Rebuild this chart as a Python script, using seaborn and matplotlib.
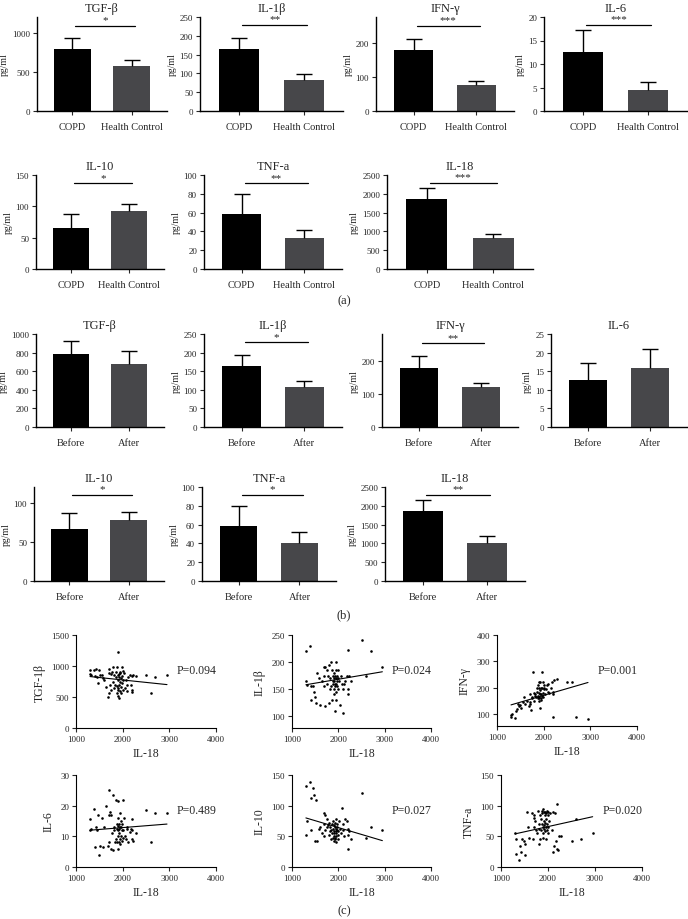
import numpy as np
import pandas as pd
import matplotlib
matplotlib.use("Agg")
import matplotlib.pyplot as plt
import seaborn as sns

# =============================================================================
#  Data
# =============================================================================

cyto_names = ["TGF-β", "IL-1β", "IFN-γ", "IL-6", "IL-10", "TNF-a", "IL-18"]

# (a) COPD vs health control
a_groups = ["COPD", "Health Control"]
a_means = [[790, 580], [165, 82], [177, 75], [12.6, 4.4], [66, 92], [59, 33], [1870, 820]]
a_errs = [[140, 65], [29, 16], [35, 14], [4.7, 1.7], [21, 11], [21, 9], [280, 120]]
a_stars = ["*", "**", "***", "***", "*", "**", "***"]
a_sig_y = [1090, 229, 250, 18.3, 137, 91, 2294]
a_ymax = [1200, 250, 275, 20, 150, 100, 2500]
a_yticks = [[0, 500, 1000], [0, 50, 100, 150, 200, 250], [0, 100, 200],
            [0, 5, 10, 15, 20], [0, 50, 100, 150], [0, 20, 40, 60, 80, 100],
            [0, 500, 1000, 1500, 2000, 2500]]

# (b) before vs after treatment
b_groups = ["Before", "After"]
b_means = [[785, 680], [165, 107], [178, 120], [12.6, 15.8], [67, 78], [58, 40], [1870, 1000]]
b_errs = [[145, 140], [29, 17], [35, 11], [4.7, 5.2], [20, 10], [22, 12], [280, 200]]
b_stars = ["", "*", "**", "", "*", "*", "**"]
b_sig_y = [None, 228, 252, None, 110, 92, 2294]
b_ymax = [1000, 250, 280, 25, 120, 100, 2500]
b_yticks = [[0, 200, 400, 600, 800, 1000], [0, 50, 100, 150, 200, 250], [0, 100, 200],
            [0, 5, 10, 15, 20, 25], [0, 50, 100], [0, 20, 40, 60, 80, 100],
            [0, 500, 1000, 1500, 2000, 2500]]

# (c) correlation with IL-18
il18 = [1300, 1310, 1320, 1380, 1400, 1420, 1450, 1480, 1500, 1520,
        1550, 1580, 1600, 1650, 1680, 1700, 1700, 1710, 1720, 1750,
        1760, 1780, 1800, 1800, 1810, 1820, 1840, 1850, 1860, 1870,
        1880, 1880, 1890, 1900, 1900, 1900, 1910, 1910, 1920, 1920,
        1930, 1930, 1940, 1940, 1950, 1950, 1960, 1960, 1970, 1980,
        1980, 1990, 2000, 2000, 2010, 2030, 2050, 2080, 2100, 2100,
        2120, 2150, 2180, 2200, 2200, 2210, 2230, 2280, 2500, 2600,
        2700, 2950]
tgf = [930, 870, 850, 940, 840, 950, 820, 730, 940, 850,
       860, 800, 780, 660, 500, 880, 560, 950, 700, 870,
       620, 900, 980, 750, 860, 640, 700, 820, 900, 560,
       980, 680, 650, 860, 780, 520, 1220, 620, 870, 480,
       700, 830, 900, 600, 750, 880, 660, 560, 800, 990,
       720, 840, 780, 610, 920, 880, 640, 780, 700, 600,
       830, 850, 690, 840, 580, 620, 850, 840, 850, 570,
       830, 860]
il1b = [220, 165, 158, 230, 130, 155, 155, 145, 135, 125,
        180, 170, 120, 165, 190, 175, 155, 190, 118, 185,
        160, 175, 195, 125, 170, 150, 155, 200, 130, 185,
        165, 160, 175, 170, 150, 140, 165, 180, 110, 155,
        175, 160, 185, 145, 170, 160, 200, 130, 165, 155,
        175, 185, 150, 170, 165, 120, 175, 160, 105, 150,
        160, 165, 175, 222, 150, 140, 175, 165, 240, 175,
        220, 190]
ifn = [95, 90, 100, 85, 110, 120, 140, 130, 135, 125,
       145, 165, 140, 150, 130, 175, 145, 140, 115, 165,
       160, 260, 180, 150, 175, 170, 165, 200, 185, 160,
       210, 170, 150, 220, 180, 160, 200, 165, 125, 175,
       220, 190, 160, 200, 155, 175, 260, 170, 200, 220,
       165, 180, 210, 195, 200, 175, 195, 210, 215, 185,
       180, 200, 220, 90, 175, 185, 230, 235, 220, 220,
       90, 80]
il6 = [15.5, 12, 12.5, 19, 6.5, 13, 12, 17, 4, 7,
       16, 6.5, 13, 20, 7, 25, 17, 8, 18, 6,
       17, 11, 23.5, 5.5, 12, 13, 8, 22, 9, 12.5,
       14, 8, 21.5, 6, 13.5, 12, 16, 10, 11, 8,
       14, 12.5, 17.5, 9, 13, 7.5, 15, 13, 10, 12,
       8.5, 14, 22, 9.5, 12, 16, 10, 9, 13, 12.5,
       8, 11.5, 12.5, 9, 15.5, 12, 8.5, 11, 18.5, 8,
       17.5, 17.5]
il10 = [132, 52, 75, 138, 112, 60, 128, 118, 42, 110,
        42, 62, 65, 55, 88, 70, 50, 85, 60, 78,
        65, 68, 52, 72, 58, 65, 45, 60, 70, 55,
        48, 62, 75, 58, 50, 42, 68, 55, 45, 65,
        72, 48, 58, 62, 40, 55, 78, 50, 60, 65,
        70, 52, 58, 45, 75, 62, 55, 97, 60, 70,
        50, 78, 75, 30, 62, 52, 58, 45, 120, 47,
        65, 60]
tnf = [55, 22, 45, 12, 35, 25, 45, 42, 19, 38,
       90, 65, 48, 88, 45, 80, 65, 85, 75, 60,
       55, 92, 70, 38, 62, 85, 45, 78, 60, 92,
       70, 88, 65, 95, 55, 48, 75, 90, 62, 68,
       85, 58, 72, 90, 65, 45, 78, 88, 60, 92,
       70, 65, 55, 85, 90, 75, 88, 60, 25, 90,
       35, 88, 42, 103, 30, 28, 50, 50, 42, 78,
       45, 56]

c_names = ["TGF-1β", "IL-1β", "IFN-γ", "IL-6", "IL-10", "TNF-a"]
c_values = [tgf, il1b, ifn, il6, il10, tnf]
c_pvals = ["P=0.094", "P=0.024", "P=0.001", "P=0.489", "P=0.027", "P=0.020"]
c_fit_x = [1300, 2950]
c_fit_y = [[830, 700], [158, 182], [135, 220], [12, 14], [80, 43], [54, 82]]
c_ylim = [(0, 1500), (78, 250), (55, 400), (0, 30), (0, 150), (0, 150)]
c_yticks = [[0, 500, 1000, 1500], [100, 150, 200, 250], [100, 200, 300, 400],
            [0, 10, 20, 30], [0, 50, 100, 150], [0, 50, 100, 150]]

# =============================================================================
#  Layout (pixel boxes: left, right, top, bottom)
# =============================================================================

W, H = 688, 920
BAR_COLORS = ["#000000", "#47464b"]


def add_ax(fig, l, r, t, b):
    return fig.add_axes([l / W, 1 - b / H, (r - l) / W, (b - t) / H])


def bar_panel(ax, title, groups, means, errs, star, sig_y, ymax, yticks):
    df = pd.DataFrame({"group": groups, "value": means})
    sns.barplot(data=df, x="group", y="value", hue="group", palette=BAR_COLORS,
                width=0.62, legend=False, ax=ax, errorbar=None, linewidth=0)
    # upward-only error bars: hide the cap sitting on the bar top
    _, caps, _ = ax.errorbar([0, 1], means, yerr=[[0, 0], errs], fmt="none",
                             ecolor="black", elinewidth=1, capsize=6, capthick=1)
    for cap in caps:
        if np.allclose(cap.get_ydata(), means):
            cap.set_visible(False)
    if star:
        ax.plot([0.05, 1.05], [sig_y, sig_y], color="black", lw=0.9)
        ax.text(0.55, sig_y + ymax * 0.015, star, ha="center", va="bottom", fontsize=8)
    ax.set_xlim(-0.6, 1.6)
    ax.set_ylim(0, ymax)
    ax.set_yticks(yticks)
    ax.set_xlabel("")
    ax.set_ylabel("pg/ml", fontsize=7, labelpad=2)
    ax.set_title(title, fontsize=9, pad=4)
    ax.tick_params(axis="y", labelsize=6.5, length=3, width=0.8, pad=2)
    ax.tick_params(axis="x", labelsize=7.5, length=3, width=0.8, pad=5)
    sns.despine(ax=ax)
    for s in ["left", "bottom"]:
        ax.spines[s].set_linewidth(1)


def scatter_panel(ax, name, yvals, pval, fit_y, ylim, yticks):
    df = pd.DataFrame({"IL-18": il18, name: yvals})
    sns.scatterplot(data=df, x="IL-18", y=name, ax=ax, color="black", s=3.5,
                    marker="o", linewidth=0)
    sns.lineplot(x=c_fit_x, y=fit_y, ax=ax, color="black", lw=0.8)
    ax.text(0.72, 0.62, pval, transform=ax.transAxes, fontsize=8.5, va="center")
    ax.set_xlim(1000, 4000)
    ax.set_xticks([1000, 2000, 3000, 4000])
    ax.set_ylim(*ylim)
    ax.set_yticks(yticks)
    ax.set_xlabel("IL-18", fontsize=8.5, labelpad=3)
    ax.set_ylabel(name, fontsize=8.5, labelpad=4)
    ax.tick_params(labelsize=6.5, length=3, width=0.8, pad=2)
    sns.despine(ax=ax)
    for s in ["left", "bottom"]:
        ax.spines[s].set_linewidth(0.8)


def main():
    sns.set_style("ticks")
    plt.rcParams["font.family"] = ["Liberation Serif", "DejaVu Serif"]
    plt.rcParams["axes.edgecolor"] = "black"

    fig = plt.figure(figsize=(W / 100, H / 100), dpi=100)

    a_boxes = [(37, 167, 18, 112), (200, 343, 18, 112), (376, 514, 18, 112), (544, 687, 18, 112),
               (36, 164, 176, 270), (204, 342, 176, 270), (387, 533, 176, 270)]
    b_boxes = [(36, 164, 335, 428), (204, 342, 335, 428), (382, 518, 335, 428), (551, 687, 335, 428),
               (34, 164, 488, 582), (202, 336, 488, 582), (385, 525, 488, 582)]

    for i, box in enumerate(a_boxes):
        ax = add_ax(fig, *box)
        bar_panel(ax, cyto_names[i], a_groups, a_means[i], a_errs[i], a_stars[i],
                  a_sig_y[i], a_ymax[i], a_yticks[i])
    for i, box in enumerate(b_boxes):
        ax = add_ax(fig, *box)
        bar_panel(ax, cyto_names[i], b_groups, b_means[i], b_errs[i], b_stars[i],
                  b_sig_y[i], b_ymax[i], b_yticks[i])

    c_boxes = [(76, 216, 636, 729), (292, 431, 636, 729), (497, 637, 636, 727),
               (76, 216, 776, 868), (292, 431, 776, 868), (501, 642, 776, 868)]
    for i, box in enumerate(c_boxes):
        ax = add_ax(fig, *box)
        scatter_panel(ax, c_names[i], c_values[i], c_pvals[i], c_fit_y[i],
                      c_ylim[i], c_yticks[i])

    for lab, ypx in [("(a)", 301), ("(b)", 615), ("(c)", 911)]:
        fig.text(0.5, 1 - ypx / H, lab, ha="center", va="center", fontsize=9)

    fig.savefig("out.png", dpi=100)
    plt.close(fig)


if __name__ == "__main__":
    main()
